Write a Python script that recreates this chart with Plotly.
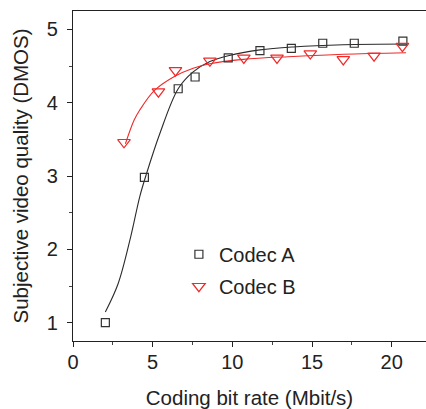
import plotly.graph_objects as go

# Measured points
codec_a_x = [2.03, 4.48, 6.6, 7.66, 9.74, 11.73, 13.7, 15.67, 17.65, 20.7]
codec_a_y = [1.0, 2.98, 4.19, 4.35, 4.61, 4.71, 4.74, 4.81, 4.81, 4.84]

codec_b_x = [3.2, 5.36, 6.43, 8.59, 10.72, 12.8, 14.89, 16.96, 18.89, 20.67]
codec_b_y = [3.46, 4.15, 4.44, 4.57, 4.61, 4.61, 4.67, 4.59, 4.64, 4.77]

# Fitted curves
fit_a_x = [2.03, 2.83, 3.62, 4.19, 4.61, 5.45, 6.6, 7.54, 8.59, 9.74, 11.73, 13.82, 16.96, 20.94]
fit_a_y = [1.145, 1.53, 2.17, 2.72, 3.03, 3.58, 4.19, 4.42, 4.56, 4.64, 4.72, 4.76, 4.79, 4.80]

fit_b_x = [3.29, 3.83, 4.19, 5.13, 6.39, 7.54, 8.59, 10.68, 13.82, 16.96, 20.9]
fit_b_y = [3.44, 3.76, 3.9, 4.17, 4.36, 4.47, 4.53, 4.59, 4.63, 4.66, 4.68]

x_ticks = [0, 5, 10, 15, 20]
y_ticks = [1, 2, 3, 4, 5]

BLACK = "#2a2a2a"
RED = "#ee2a2a"
FONT = "Liberation Sans, Arial, sans-serif"

fig = go.Figure()
fig.add_trace(go.Scatter(x=fit_a_x, y=fit_a_y, mode="lines",
                         line=dict(color=BLACK, width=1.1, shape="spline"),
                         showlegend=False, hoverinfo="skip"))
fig.add_trace(go.Scatter(x=fit_b_x, y=fit_b_y, mode="lines",
                         line=dict(color=RED, width=1.1, shape="spline"),
                         showlegend=False, hoverinfo="skip"))
fig.add_trace(go.Scatter(x=codec_a_x, y=codec_a_y, mode="markers", name="Codec A",
                         legendgroup="a",
                         marker=dict(symbol="square-open", size=8, color="#333333",
                                     line=dict(width=1.2, color="#333333"))))
fig.add_trace(go.Scatter(x=codec_b_x, y=codec_b_y, mode="markers", name="Codec B",
                         legendgroup="b",
                         marker=dict(symbol="triangle-down-open", size=11, color=RED,
                                     line=dict(width=1.2, color=RED))))

axis_common = dict(
    showline=True, linecolor="#222222", linewidth=1.2,
    ticks="outside", ticklen=5, tickwidth=1, tickcolor="#222222",
    showgrid=False, zeroline=False, automargin=False,
    tickfont=dict(family=FONT, size=20, color="#222222"),
)

fig.update_xaxes(
    range=[0, 22.15], tickvals=x_ticks, mirror=True, ticklabelstandoff=-2,
    title=dict(text="Coding bit rate (Mbit/s)", font=dict(family=FONT, size=20.5, color="#222222"),
               standoff=18),
    minor=dict(dtick=2.5, tick0=0, ticks="outside", ticklen=3, tickcolor="#444444", showgrid=False),
    **axis_common,
)
fig.update_yaxes(
    range=[0.75, 5.25], tickvals=y_ticks, ticklabelstandoff=5,
    title=dict(text="Subjective video quality (DMOS)", font=dict(family=FONT, size=20.5, color="#222222"),
               standoff=12),
    minor=dict(dtick=0.5, tick0=0, ticks="outside", ticklen=3, tickcolor="#444444", showgrid=False),
    **axis_common,
)

fig.update_layout(
    width=426, height=409,
    margin=dict(l=73, r=0, t=11, b=68, autoexpand=False),
    paper_bgcolor="white", plot_bgcolor="white",
    font=dict(family=FONT, color="#222222"),
    legend=dict(x=0.30, y=0.322, xanchor="left", yanchor="top", tracegroupgap=3,
                font=dict(family=FONT, size=20, color="#222222"),
                bgcolor="rgba(0,0,0,0)", itemsizing="trace"),
)

fig.write_html(
    "out.html",
    config={"displayModeBar": False},
    post_script="document.body.style.margin='0';document.body.style.overflow='hidden';",
)
